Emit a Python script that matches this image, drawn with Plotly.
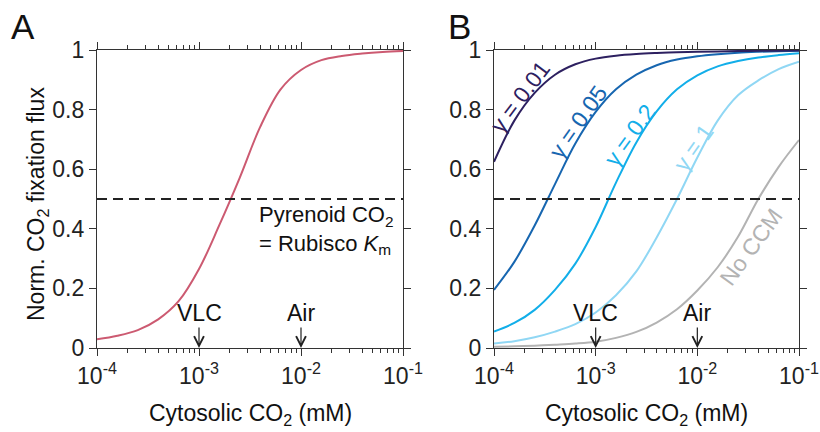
import math
import plotly.graph_objects as go

# ---- data (cytosolic CO2 in mM, normalised CO2 fixation flux) ----
co2 = [1.0e-4, 1.585e-4, 2.512e-4, 3.981e-4, 6.310e-4, 1.0e-3, 1.585e-3, 2.512e-3,
       3.981e-3, 6.310e-3, 1.0e-2, 1.585e-2, 2.512e-2, 3.981e-2, 6.310e-2, 0.1]

# panel A: single pyrenoid model
flux_a = [0.029, 0.041, 0.060, 0.096, 0.157, 0.265, 0.413, 0.572,
          0.742, 0.868, 0.933, 0.966, 0.980, 0.988, 0.9935, 0.997]

# panel B: varying gamma, plus the no-CCM case
flux_g001 = [0.625, 0.763, 0.856, 0.917, 0.952, 0.971, 0.981, 0.9866,
             0.990, 0.9925, 0.994, 0.9953, 0.9963, 0.9971, 0.9977, 0.998]
flux_g005 = [0.195, 0.289, 0.411, 0.550, 0.686, 0.792, 0.868, 0.917,
             0.949, 0.968, 0.979, 0.986, 0.991, 0.994, 0.996, 0.9975]
flux_g02 = [0.055, 0.084, 0.128, 0.195, 0.283, 0.406, 0.555, 0.690,
            0.794, 0.868, 0.915, 0.945, 0.963, 0.975, 0.983, 0.989]
flux_g1 = [0.015, 0.023, 0.036, 0.055, 0.080, 0.119, 0.177, 0.257,
           0.371, 0.500, 0.639, 0.763, 0.848, 0.898, 0.936, 0.961]
flux_noccm = [0.004, 0.0055, 0.0078, 0.011, 0.0148, 0.021, 0.034, 0.054,
              0.0855, 0.130, 0.193, 0.271, 0.373, 0.500, 0.608, 0.698]

x_ticks = [1e-4, 1e-3, 1e-2, 1e-1]
x_ticktext = ["10<sup>-4</sup>", "10<sup>-3</sup>", "10<sup>-2</sup>", "10<sup>-1</sup>"]
y_ticks = [0, 0.2, 0.4, 0.6, 0.8, 1]
y_ticktext = ["0", "0.2", "0.4", "0.6", "0.8", "1"]
minor_ticks = [m * 10.0 ** e for e in (-4, -3, -2) for m in range(2, 10)]

half_sat = 0.5
markers = [("VLC", 1e-3), ("Air", 1e-2)]

FONT = "Liberation Sans, Arial, Helvetica, sans-serif"
FS = 23
AX = "#333333"
RED = "#cc5a71"
C001 = "#2d2060"
C005 = "#1766b0"
C02 = "#12aee9"
C1 = "#90d7f4"
CGRAY = "#b3b3b3"

fig = go.Figure()

def curve(y, color, xa, ya):
    fig.add_trace(go.Scatter(x=co2, y=y, mode="lines", xaxis=xa, yaxis=ya,
                             line=dict(color=color, width=2, shape="spline", smoothing=1.0),
                             showlegend=False, hoverinfo="skip"))

curve(flux_a, RED, "x", "y")
curve(flux_noccm, CGRAY, "x2", "y2")
curve(flux_g1, C1, "x2", "y2")
curve(flux_g02, C02, "x2", "y2")
curve(flux_g005, C005, "x2", "y2")
curve(flux_g001, C001, "x2", "y2")

def xaxis_cfg(domain, anchor):
    return dict(domain=domain, anchor=anchor, type="log", range=[-4, -1], automargin=False,
                tickmode="array", tickvals=x_ticks, ticktext=x_ticktext,
                ticks="outside", ticklen=7, tickwidth=1.3, tickcolor=AX,
                showline=True, linecolor=AX, linewidth=1.3, mirror="ticks",
                minor=dict(tickmode="array", tickvals=minor_ticks, ticks="outside",
                           ticklen=4, tickwidth=1.2, tickcolor=AX, showgrid=False),
                showgrid=False, zeroline=False,
                tickfont=dict(family=FONT, size=FS, color="#222"))

def yaxis_cfg(domain, anchor):
    return dict(domain=domain, anchor=anchor, range=[0, 1], automargin=False,
                tickmode="array", tickvals=y_ticks, ticktext=y_ticktext,
                ticks="outside", ticklen=7, tickwidth=1.3, tickcolor=AX,
                showline=True, linecolor=AX, linewidth=1.3, mirror="ticks",
                showgrid=False, zeroline=False,
                tickfont=dict(family=FONT, size=FS, color="#222"))

W, H = 820, 432
ydom = [1 - 348 / H, 1 - 50 / H]
fig.update_layout(
    width=W, height=H, margin=dict(l=0, r=0, t=0, b=0),
    paper_bgcolor="white", plot_bgcolor="white",
    xaxis=xaxis_cfg([97 / W, 403 / W], "y"),
    yaxis=yaxis_cfg(ydom, "x"),
    xaxis2=xaxis_cfg([494 / W, 799 / W], "y2"),
    yaxis2=yaxis_cfg(ydom, "x2"),
)

# half-saturation reference line
for xr, yr in (("x", "y"), ("x2", "y2")):
    fig.add_shape(type="line", xref=f"{xr} domain", yref=yr, x0=0, x1=1, y0=half_sat, y1=half_sat,
                  line=dict(color="#222", width=1.8, dash="10px,6px"))

ann = []

def paper_text(text, px, py, size, angle=0):
    ann.append(dict(text=text, xref="paper", yref="paper", x=px / W, y=1 - py / H,
                    xanchor="center", yanchor="middle", textangle=angle, showarrow=False,
                    font=dict(family=FONT, size=size, color="#111")))

# axis titles and panel letters
paper_text("Cytosolic CO<sub>2</sub> (mM)", (97 + 403) / 2, 414, FS)
paper_text("Cytosolic CO<sub>2</sub> (mM)", (494 + 799) / 2, 414, FS)
paper_text("Norm. CO<sub>2</sub> fixation flux", 37, 204, FS, -90)
paper_text("A", 23, 26, 35)
paper_text("B", 459, 26, 35)

# condition markers
for xr, yr in (("x", "y"), ("x2", "y2")):
    for label, xv in markers:
        ann.append(dict(text=label, xref=xr, yref=yr, x=math.log10(xv), y=0,
                        showarrow=True, ax=0, ay=-35, arrowhead=5, arrowsize=1.6,
                        arrowwidth=1.2, arrowcolor="#222", standoff=0,
                        font=dict(family=FONT, size=FS, color="#111")))

ann.append(dict(text="Pyrenoid CO<sub>2</sub><br>= Rubisco <i>K</i><sub>m</sub>", xref="x", yref="y",
                x=math.log10(1e-4 * 10 ** 1.569), y=0.396, xanchor="left", yanchor="middle",
                align="left", showarrow=False, font=dict(family=FONT, size=22, color="#111")))

# curve labels in panel B
for text, lx, ly, ang, col in (
    ("γ = 0.01", 1e-4 * 10 ** 0.256, 0.842, -53, C001),
    ("γ = 0.05", 1e-4 * 10 ** 0.826, 0.758, -55, C005),
    ("γ = 0.2", 1e-4 * 10 ** 1.337, 0.715, -54, C02),
    ("γ = 1", 1e-4 * 10 ** 1.967, 0.674, -55, C1),
    ("No CCM", 1e-4 * 10 ** 2.527, 0.339, -54, CGRAY),
):
    ann.append(dict(text=text, xref="x2", yref="y2", x=math.log10(lx), y=ly, textangle=ang,
                    showarrow=False, font=dict(family=FONT, size=FS, color=col)))

fig.update_layout(annotations=ann)
fig.write_html("out.html")
